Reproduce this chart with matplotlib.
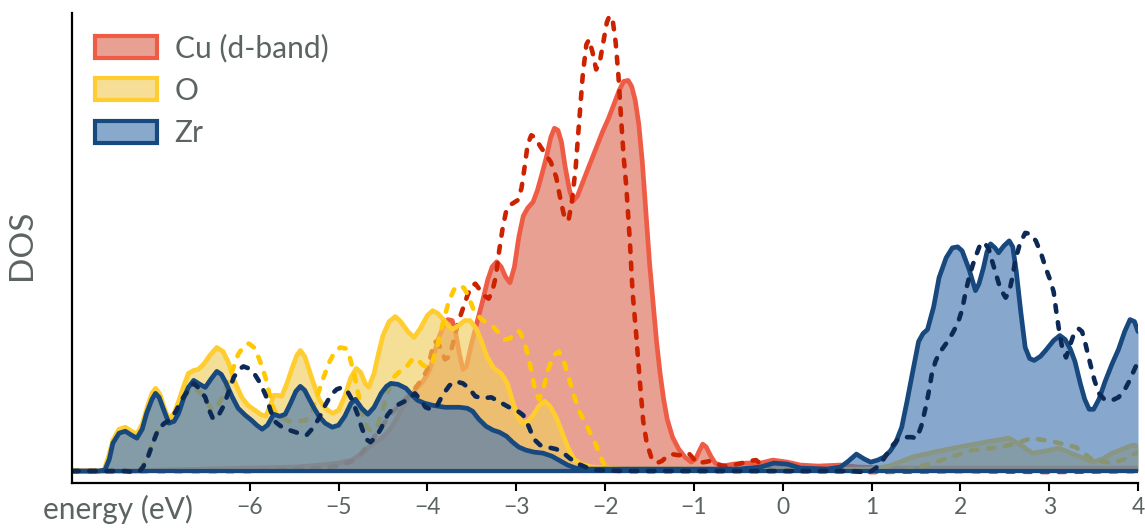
import matplotlib.pyplot as plt
from matplotlib.patches import Patch

plt.rcParams['font.family'] = ['Lato', 'DejaVu Sans']

# projected DOS, solid = structure A (filled), dashed = structure B
cu_e = [-8.0, -7.3, -7.0, -6.5, -6.0, -5.5, -5.2, -5.0, -4.85, -4.73, -4.65, -4.58, -4.5, -4.42,
        -4.35, -4.28, -4.2, -4.12, -4.05, -3.98, -3.93, -3.88, -3.82, -3.77, -3.72, -3.68, -3.64,
        -3.6, -3.56, -3.51, -3.45, -3.38, -3.32, -3.27, -3.22, -3.17, -3.12, -3.07, -3.02, -2.97,
        -2.92, -2.87, -2.81, -2.76, -2.71, -2.66, -2.61, -2.57, -2.53, -2.49, -2.45, -2.4, -2.36,
        -2.31, -2.25, -2.18, -2.1, -2.03, -1.96, -1.9, -1.84, -1.79, -1.74, -1.7, -1.66, -1.62,
        -1.58, -1.54, -1.5, -1.46, -1.42, -1.38, -1.34, -1.3, -1.24, -1.17, -1.1, -1.03, -0.98,
        -0.94, -0.9, -0.86, -0.81, -0.76, -0.68, -0.55, -0.4, -0.25, -0.11, 0.05, 0.2, 0.4, 0.65,
        0.85, 1.2, 2.0, 3.0, 4.0]
cu_dos = [0, 0, 0.01, 0.02, 0.03, 0.04, 0.06, 0.08, 0.11, 0.18, 0.25, 0.29, 0.34, 0.42,
          0.52, 0.64, 0.74, 0.83, 0.9, 1.0, 1.15, 1.32, 1.45, 1.52, 1.51, 1.38, 1.18,
          1.02, 1.05, 1.25, 1.46, 1.7, 1.92, 2.05, 2.1, 2.05, 1.95, 1.89, 2.05, 2.35,
          2.56, 2.64, 2.7, 2.82, 2.98, 3.15, 3.35, 3.44, 3.42, 3.3, 3.06, 2.82, 2.71,
          2.76, 2.9, 3.06, 3.24, 3.4, 3.54, 3.68, 3.82, 3.91, 3.92, 3.86, 3.72, 3.48,
          3.1, 2.6, 2.1, 1.7, 1.3, 0.98, 0.72, 0.52, 0.34, 0.22, 0.14, 0.09, 0.12,
          0.2, 0.27, 0.24, 0.15, 0.08, 0.05, 0.07, 0.08, 0.08, 0.11, 0.09, 0.06, 0.05, 0.06,
          0.04, 0.03, 0.03, 0.03, 0.03]

cu2_e = [-8.0, -6.0, -5.5, -5.2, -5.0, -4.85, -4.75, -4.65, -4.55, -4.47, -4.38, -4.3, -4.2,
         -4.13, -4.06, -4.0, -3.95, -3.91, -3.86, -3.8, -3.75, -3.7, -3.65, -3.6, -3.55, -3.5,
         -3.46, -3.41, -3.36, -3.31, -3.27, -3.23, -3.19, -3.15, -3.11, -3.05, -2.98, -2.94,
         -2.91, -2.87, -2.83, -2.79, -2.73, -2.67, -2.61, -2.55, -2.5, -2.45, -2.41, -2.37,
         -2.33, -2.29, -2.25, -2.21, -2.18, -2.14, -2.1, -2.06, -2.02, -1.98, -1.95, -1.91,
         -1.88, -1.85, -1.82, -1.79, -1.76, -1.72, -1.69, -1.65, -1.61, -1.57, -1.53, -1.48,
         -1.42, -1.36, -1.3, -1.25, -1.18, -1.12, -1.06, -1.01, -0.96, -0.88, -0.82, -0.75,
         -0.65, -0.55, -0.46, -0.38, -0.3, -0.22, -0.1, 0.5, 1.0, 2.0, 3.0, 4.0]
cu2_dos = [0, 0, 0.02, 0.03, 0.05, 0.1, 0.17, 0.28, 0.4, 0.5, 0.6, 0.68, 0.76,
           0.84, 0.92, 1.02, 1.2, 1.3, 1.25, 1.12, 1.15, 1.32, 1.5, 1.63, 1.76, 1.86,
           1.88, 1.82, 1.76, 1.73, 1.8, 1.95, 2.22, 2.45, 2.62, 2.68, 2.72, 2.84,
           3.02, 3.28, 3.37, 3.35, 3.26, 3.18, 3.1, 2.95, 2.72, 2.52, 2.52, 2.72,
           3.05, 3.52, 3.98, 4.28, 4.33, 4.2, 4.03, 4.1, 4.3, 4.5, 4.57, 4.5,
           4.3, 3.98, 3.55, 3.15, 2.85, 2.3, 1.8, 1.38, 0.92, 0.5, 0.28, 0.14,
           0.08, 0.1, 0.15, 0.17, 0.16, 0.16, 0.18, 0.13, 0.08, 0.09, 0.1, 0.07,
           0.05, 0.06, 0.08, 0.1, 0.11, 0.05, 0.0, 0.0, -0.01, 0.0, -0.01, 0.0]

o_e = [-8.0, -7.7, -7.64, -7.59, -7.54, -7.47, -7.4, -7.33, -7.27, -7.21, -7.15, -7.1, -7.06,
       -7.01, -6.96, -6.91, -6.85, -6.8, -6.74, -6.69, -6.63, -6.58, -6.52, -6.45, -6.37, -6.3,
       -6.24, -6.17, -6.09, -6.02, -5.94, -5.88, -5.82, -5.77, -5.73, -5.68, -5.64, -5.58, -5.52,
       -5.47, -5.43, -5.38, -5.3, -5.22, -5.15, -5.07, -5.0, -4.93, -4.86, -4.8, -4.75, -4.7,
       -4.66, -4.6, -4.55, -4.5, -4.43, -4.36, -4.3, -4.22, -4.15, -4.08, -4.0, -3.94, -3.88,
       -3.8, -3.72, -3.65, -3.58, -3.52, -3.45, -3.39, -3.33, -3.25, -3.17, -3.1, -3.04, -2.98,
       -2.93, -2.87, -2.81, -2.74, -2.68, -2.62, -2.55, -2.48, -2.42, -2.35, -2.27, -2.15, -1.8,
       -1.0, 0.0, 1.0, 1.2, 1.46, 1.7, 1.98, 2.28, 2.55, 2.7, 2.81, 2.95, 3.11, 3.3, 3.49, 3.6,
       3.71, 3.94, 4.0]
o_dos = [0, 0, 0.01, 0.14, 0.31, 0.42, 0.44, 0.4, 0.37, 0.47, 0.65, 0.78, 0.83,
         0.77, 0.63, 0.52, 0.58, 0.7, 0.86, 0.98, 1.01, 1.02, 1.07, 1.16, 1.24, 1.2,
         1.09, 0.9, 0.74, 0.66, 0.61, 0.57, 0.55, 0.65, 0.76, 0.76, 0.75, 0.88, 1.04,
         1.16, 1.21, 1.15, 0.93, 0.72, 0.63, 0.58, 0.61, 0.75, 0.94, 1.03, 0.99, 0.88,
         0.84, 0.98, 1.18, 1.36, 1.5, 1.55, 1.5, 1.4, 1.34, 1.43, 1.56, 1.61, 1.58,
         1.5, 1.42, 1.46, 1.51, 1.51, 1.43, 1.3, 1.15, 1.03, 0.98, 0.88, 0.7, 0.54,
         0.48, 0.5, 0.56, 0.66, 0.7, 0.65, 0.54, 0.38, 0.24, 0.12, 0.07, 0.04, 0.02,
         0.02, 0.01, 0.02, 0.05, 0.14, 0.19, 0.24, 0.29, 0.33, 0.25, 0.18, 0.2, 0.23, 0.16, 0.09, 0.12,
         0.18, 0.26, 0.25]

o2_e = [-8.0, -7.3, -7.22, -7.15, -7.08, -7.02, -6.95, -6.88, -6.8, -6.72, -6.64, -6.57, -6.5,
        -6.44, -6.38, -6.32, -6.26, -6.19, -6.13, -6.07, -6.01, -5.95, -5.9, -5.85, -5.81, -5.77,
        -5.72, -5.65, -5.55, -5.45, -5.37, -5.3, -5.23, -5.16, -5.1, -5.04, -4.98, -4.92, -4.87,
        -4.82, -4.78, -4.73, -4.68, -4.63, -4.56, -4.5, -4.44, -4.38, -4.31, -4.24, -4.17, -4.12,
        -4.06, -4.0, -3.94, -3.88, -3.82, -3.76, -3.7, -3.65, -3.59, -3.54, -3.48, -3.4, -3.32,
        -3.25, -3.19, -3.13, -3.07, -3.01, -2.96, -2.91, -2.86, -2.82, -2.78, -2.74, -2.69, -2.64,
        -2.58, -2.52, -2.47, -2.41, -2.35, -2.29, -2.22, -2.16, -2.1, -2.05, -2.0, -1.92, -1.5,
        0.0, 1.3, 1.46, 1.72, 2.13, 2.47, 2.81, 3.07, 3.3, 3.49, 3.71, 3.85, 4.0]
o2_dos = [0, 0, 0.03, 0.15, 0.32, 0.42, 0.48, 0.53, 0.65, 0.77, 0.84, 0.8, 0.72,
          0.63, 0.62, 0.72, 0.86, 1.02, 1.17, 1.25, 1.28, 1.24, 1.14, 1.02, 0.9, 0.74,
          0.6, 0.54, 0.5, 0.5, 0.51, 0.6, 0.78, 0.96, 1.1, 1.2, 1.24, 1.23, 1.13,
          0.96, 0.78, 0.58, 0.44, 0.4, 0.46, 0.62, 0.8, 0.94, 1.0, 1.04, 1.12, 1.13,
          1.07, 1.04, 1.1, 1.28, 1.5, 1.7, 1.82, 1.86, 1.84, 1.76, 1.62, 1.53, 1.48,
          1.44, 1.38, 1.32, 1.33, 1.4, 1.4, 1.3, 1.14, 0.96, 0.78, 0.72, 0.84, 1.02,
          1.16, 1.2, 1.12, 0.94, 0.76, 0.6, 0.48, 0.37, 0.26, 0.14, 0.05, 0.01, 0.0,
          0.0, 0.0, 0.02, 0.09, 0.21, 0.24, 0.33, 0.29, 0.24, 0.11, 0.08, 0.12, 0.19]

zr_e = [-8.0, -7.7, -7.63, -7.58, -7.54, -7.47, -7.4, -7.33, -7.27, -7.21, -7.16, -7.1, -7.06,
        -7.02, -6.97, -6.91, -6.85, -6.8, -6.74, -6.69, -6.63, -6.56, -6.5, -6.43, -6.37, -6.32,
        -6.27, -6.2, -6.13, -6.05, -5.98, -5.92, -5.86, -5.8, -5.73, -5.66, -5.6, -5.54, -5.48,
        -5.43, -5.38, -5.34, -5.28, -5.22, -5.15, -5.07, -5.0, -4.93, -4.86, -4.81, -4.74, -4.67,
        -4.6, -4.52, -4.46, -4.41, -4.33, -4.24, -4.17, -4.11, -4.03, -3.94, -3.8, -3.64, -3.55,
        -3.49, -3.42, -3.34, -3.26, -3.19, -3.11, -3.04, -2.97, -2.89, -2.8, -2.7, -2.6, -2.5,
        -2.42, -2.33, -2.2, -1.5, -1.0, -0.5, -0.25, -0.1, 0.05, 0.2, 0.5, 0.65, 0.74, 0.83,
        0.92, 0.99, 1.07, 1.14, 1.21, 1.27, 1.34, 1.4, 1.46, 1.53, 1.58, 1.63, 1.7, 1.76, 1.84,
        1.91, 1.97, 2.02, 2.1, 2.17, 2.21, 2.26, 2.3, 2.34, 2.39, 2.43, 2.49, 2.55, 2.59, 2.63,
        2.68, 2.73, 2.78, 2.83, 2.9, 2.96, 3.05, 3.12, 3.18, 3.24, 3.29, 3.35, 3.4, 3.45, 3.5,
        3.56, 3.63, 3.71, 3.78, 3.85, 3.91, 3.96, 4.0]
zr_dos = [0, 0, 0.01, 0.12, 0.28, 0.38, 0.4, 0.36, 0.33, 0.42, 0.58, 0.72, 0.78,
          0.74, 0.62, 0.48, 0.5, 0.58, 0.74, 0.84, 0.91, 0.87, 0.84, 0.93, 1.0, 0.97,
          0.89, 0.75, 0.63, 0.56, 0.51, 0.46, 0.42, 0.46, 0.57, 0.55, 0.57, 0.68, 0.8,
          0.85, 0.81, 0.74, 0.64, 0.55, 0.48, 0.44, 0.46, 0.55, 0.68, 0.72, 0.63, 0.57,
          0.64, 0.78, 0.85, 0.88, 0.87, 0.83, 0.76, 0.71, 0.68, 0.66, 0.64, 0.64, 0.63,
          0.6, 0.52, 0.45, 0.41, 0.39, 0.35, 0.29, 0.24, 0.21, 0.19, 0.18, 0.15, 0.1,
          0.06, 0.03, 0.02, 0.02, 0.02, 0.02, 0.04, 0.08, 0.07, 0.03, 0.02, 0.04, 0.1, 0.17,
          0.12, 0.09, 0.11, 0.14, 0.2, 0.28, 0.44, 0.7, 0.98, 1.3, 1.38, 1.42, 1.65, 1.94, 2.14,
          2.24, 2.25, 2.21, 2.02, 1.81, 1.88, 2.04, 2.2, 2.28, 2.24, 2.19, 2.26, 2.31, 2.25, 2.0,
          1.6, 1.24, 1.13, 1.11, 1.15, 1.21, 1.31, 1.36, 1.32, 1.22, 1.1, 0.88, 0.72, 0.62, 0.62,
          0.72, 0.9, 1.08, 1.22, 1.4, 1.52, 1.5, 1.4]

zr2_e = [-8.0, -7.4, -7.3, -7.25, -7.2, -7.15, -7.09, -7.03, -6.96, -6.9, -6.83, -6.77, -6.7,
         -6.63, -6.57, -6.5, -6.45, -6.41, -6.35, -6.29, -6.24, -6.18, -6.12, -6.07, -6.01, -5.95,
         -5.88, -5.82, -5.77, -5.72, -5.65, -5.55, -5.45, -5.36, -5.29, -5.22, -5.15, -5.08, -5.02,
         -4.96, -4.9, -4.85, -4.79, -4.74, -4.69, -4.64, -4.58, -4.52, -4.45, -4.38, -4.3, -4.21,
         -4.14, -4.08, -4.02, -3.96, -3.9, -3.83, -3.75, -3.68, -3.6, -3.53, -3.46, -3.38, -3.28,
         -3.18, -3.08, -2.98, -2.92, -2.86, -2.8, -2.73, -2.65, -2.55, -2.48, -2.4, -2.32, -2.22,
         -2.1, -1.8, -1.0, 0.0, 0.6, 0.8, 0.9, 0.98, 1.05, 1.12, 1.18, 1.23, 1.3, 1.38, 1.45, 1.51,
         1.56, 1.61, 1.65, 1.68, 1.72, 1.76, 1.84, 1.91, 1.97, 2.02, 2.06, 2.1, 2.14, 2.18, 2.23,
         2.28, 2.32, 2.36, 2.4, 2.45, 2.51, 2.55, 2.58, 2.62, 2.67, 2.73, 2.79, 2.85, 2.91, 2.96,
         3.01, 3.05, 3.08, 3.11, 3.15, 3.19, 3.23, 3.28, 3.33, 3.37, 3.41, 3.45, 3.51, 3.56, 3.62,
         3.71, 3.78, 3.84, 3.9, 3.95, 4.0]
zr2_dos = [0, 0, -0.01, -0.01, 0.04, 0.13, 0.28, 0.42, 0.48, 0.51, 0.6, 0.71, 0.8,
           0.88, 0.83, 0.74, 0.6, 0.52, 0.56, 0.66, 0.79, 0.94, 1.02, 1.05, 1.03, 0.98,
           0.88, 0.76, 0.62, 0.5, 0.45, 0.41, 0.38, 0.36, 0.43, 0.53, 0.66, 0.77, 0.82,
           0.84, 0.8, 0.72, 0.58, 0.44, 0.32, 0.29, 0.34, 0.43, 0.56, 0.64, 0.68, 0.72,
           0.78, 0.72, 0.64, 0.62, 0.64, 0.76, 0.86, 0.9, 0.88, 0.83, 0.75, 0.73, 0.74,
           0.69, 0.64, 0.6, 0.56, 0.45, 0.32, 0.26, 0.24, 0.22, 0.19, 0.13, 0.08, 0.04,
           0.01, 0.0, 0.0, 0.0, 0.0, 0.0, -0.01, -0.01, 0.03, 0.1, 0.18, 0.25, 0.32, 0.34, 0.34, 0.33,
           0.45, 0.64, 0.82, 0.98, 1.1, 1.18, 1.28, 1.38, 1.48, 1.62, 1.8, 1.95, 2.07, 2.17, 2.29,
           2.28, 2.23, 2.1, 1.98, 1.83, 1.74, 1.8, 1.92, 2.12, 2.28, 2.39, 2.38, 2.31, 2.18, 2.04,
           1.92, 1.8, 1.6, 1.42, 1.22, 1.14, 1.25, 1.38, 1.43, 1.4, 1.27, 1.12, 0.91, 0.78, 0.72,
           0.71, 0.74, 0.8, 0.9, 1.0, 1.1]

labels = ['Cu (d-band)', 'O', 'Zr']
line_colors = ['#ef5c45', '#ffcd30', '#17497f']
fill_colors = ['#dc6d59', '#f1cd5e', '#4879b1']
dash_colors = ['#cc2200', '#ffc800', '#0c2a55']
fill_alpha = 0.65

text_color = '#5b6460'

fig = plt.figure(figsize=(11.45, 5.28), dpi=100)
ax = fig.add_axes([0.0629, 0.0852, 0.9310, 0.8908])

series = [(cu_e, cu_dos, cu2_e, cu2_dos),
          (o_e, o_dos, o2_e, o2_dos),
          (zr_e, zr_dos, zr2_e, zr2_dos)]

# species stacked in order (Cu, O, Zr); each later fill washes over earlier lines
z = 1
for (e1, d1, e2, d2), lc, fc, dc in zip(series, line_colors, fill_colors, dash_colors):
    ax.fill_between(e1, 0, d1, color=fc, alpha=fill_alpha, linewidth=0, zorder=z)
    # outline of the filled area: curve plus its zero baseline
    ax.plot([e1[0], e1[-1]], [0, 0], color=lc, lw=3.0, zorder=z + 1)
    ax.plot(e1, d1, color=lc, lw=3.4, solid_joinstyle='round', solid_capstyle='round',
            zorder=z + 1)
    ax.plot(e2, d2, color=dc, lw=3.3, linestyle=(0, (1.45, 2.3)),
            dash_capstyle='round', dash_joinstyle='round', zorder=z + 2)
    z += 3

ax.set_xlim(-8.0, 4.0)
ax.set_ylim(-0.12, 4.6)
ax.set_xticks([-6, -5, -4, -3, -2, -1, 0, 1, 2, 3, 4])
ax.set_xticklabels(['\u22126', '\u22125', '\u22124', '\u22123', '\u22122', '\u22121',
                    '0', '1', '2', '3', '4'])
ax.set_yticks([])
ax.tick_params(axis='x', length=6, width=1.5, color='black', labelsize=16.5,
               labelcolor=text_color, pad=4)

for side in ['top', 'right']:
    ax.spines[side].set_visible(False)
for side in ['left', 'bottom']:
    ax.spines[side].set_linewidth(1.6)
    ax.spines[side].set_zorder(20)

ax.set_xlabel('energy (eV)', fontsize=21.5, color=text_color, loc='left')
ax.xaxis.set_label_coords(-0.027, -0.025)
ax.set_ylabel('DOS', fontsize=24, color=text_color)
ax.yaxis.set_label_coords(-0.033, 0.507)

handles = [Patch(facecolor=fc, alpha=None, edgecolor=lc, linewidth=3.0, label=lab)
           for fc, lc, lab in zip(['#e8a093', '#f6de96', '#88a8cc'], line_colors, labels)]
ax.legend(handles=handles, loc='upper left', bbox_to_anchor=(0.022, 0.955), frameon=False,
          fontsize=21.5, labelcolor=text_color, borderpad=0, borderaxespad=0,
          handlelength=2.05, handleheight=0.75, handletextpad=0.6, labelspacing=0.48)

fig.savefig('out.png', dpi=100)
